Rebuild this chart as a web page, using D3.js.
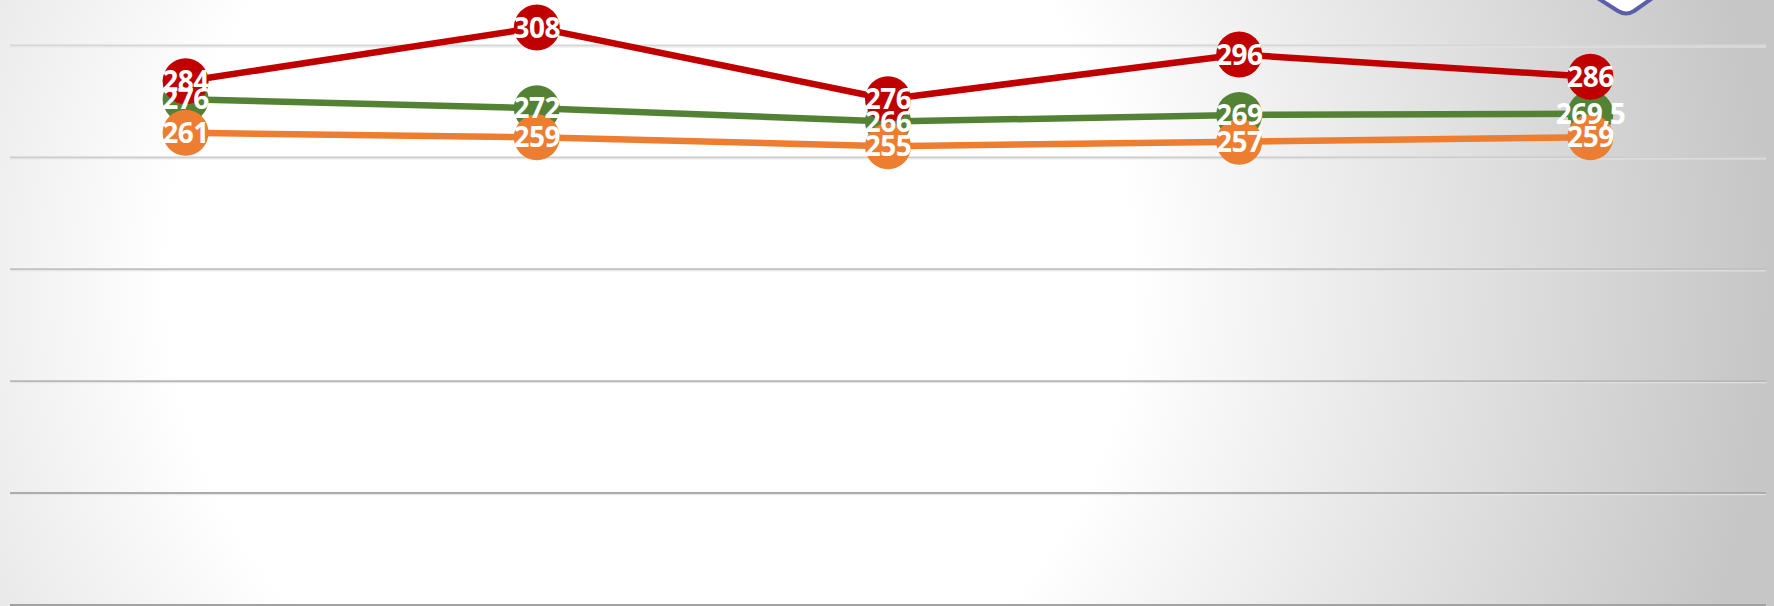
<!DOCTYPE html>
<html lang="en">
<head>
  <meta charset="UTF-8" />
  <script src="https://d3js.org/d3.v7.min.js"></script>
  <title>Chart</title>
  <style>
    html, body { margin: 0; padding: 0; overflow: hidden; }
  </style>
</head>
<body>
<script type="text/javascript">
// data
var categories = ["1", "2", "3", "4", "5"];
var redValues = [284, 308, 276, 296, 286];
var greenValues = [276, 272, 266, 269, 269.5];
var orangeValues = [261, 259, 255, 257, 259];
var yTicks = [50, 100, 150, 200, 250, 300];

var width = 1774, height = 606;
var plot = {left: 10, right: 1766, top: 45.5, bottom: 605};

var svg = d3.select("body").append("svg")
    .attr("width", width).attr("height", height);

// background gradient
var defs = svg.append("defs");
var grad = defs.append("radialGradient").attr("id", "bg")
    .attr("gradientUnits", "userSpaceOnUse")
    .attr("cx", 650).attr("cy", 280).attr("r", 1120);
grad.append("stop").attr("offset", 0).attr("stop-color", "#ffffff");
grad.append("stop").attr("offset", 0.43).attr("stop-color", "#ffffff");
grad.append("stop").attr("offset", 1).attr("stop-color", "#c6c6c6");
svg.append("rect").attr("width", width).attr("height", height).attr("fill", "url(#bg)");

var x = d3.scaleBand().domain(categories).range([plot.left, plot.right]).paddingInner(0);
var y = d3.scaleLinear().domain([50, 300]).range([plot.bottom, plot.top]);
var cx = function(d, i) { return x(categories[i]) + x.bandwidth() / 2; };

// gridlines, darker towards the bottom
var gridColor = d3.scaleLinear().domain([50, 300]).range(["#a2a2a2", "#d6d6d6"]);
var grid = svg.append("g");
grid.selectAll("line.g").data(yTicks).enter().append("line")
    .attr("class", "g")
    .attr("x1", plot.left).attr("x2", plot.right)
    .attr("y1", function(d){ return y(d); }).attr("y2", function(d){ return y(d); })
    .attr("stroke", function(d){ return gridColor(d); })
    .attr("stroke-width", 2);
grid.selectAll("line.h").data(yTicks).enter().append("line")
    .attr("class", "h")
    .attr("x1", plot.left).attr("x2", plot.right)
    .attr("y1", function(d){ return y(d) + 1.5; }).attr("y2", function(d){ return y(d) + 1.5; })
    .attr("stroke", "#e6e6e6")
    .attr("stroke-width", 1);

// decorative shape cut off at the top right
svg.append("path")
    .attr("d", "M1596,-3 L1618,11 Q1626,16 1634,11 L1654,-3")
    .attr("fill", "#ffffff").attr("stroke", "#5b5ea8").attr("stroke-width", 4)
    .attr("stroke-linejoin", "round");

var series = [
  {name: "green", values: greenValues, color: "#548235"},
  {name: "red", values: redValues, color: "#C00000"},
  {name: "orange", values: orangeValues, color: "#ED7D31"}
];

var line = d3.line().x(cx).y(function(d){ return y(d); });

svg.append("g").selectAll("path").data(series).enter().append("path")
    .attr("d", function(s){ return line(s.values); })
    .attr("fill", "none")
    .attr("stroke", function(s){ return s.color; })
    .attr("stroke-width", 6.5)
    .attr("stroke-linejoin", "round");

series.forEach(function(s) {
  svg.append("g").selectAll("circle").data(s.values).enter().append("circle")
      .attr("cx", cx).attr("cy", function(d){ return y(d); })
      .attr("r", 23)
      .attr("fill", s.color);
});

var fmt = function(v) { return String(v).replace(".", ","); };
series.forEach(function(s) {
  svg.append("g").selectAll("text").data(s.values).enter().append("text")
      .attr("x", cx).attr("y", function(d){ return y(d); })
      .attr("dy", "0.36em")
      .attr("text-anchor", "middle")
      .attr("font-family", "'Noto Sans', 'Open Sans', sans-serif")
      .attr("font-weight", 700)
      .attr("font-size", 28)
      .attr("letter-spacing", -0.5)
      .attr("fill", "#ffffff")
      .text(fmt);
});
</script>
</body>
</html>
